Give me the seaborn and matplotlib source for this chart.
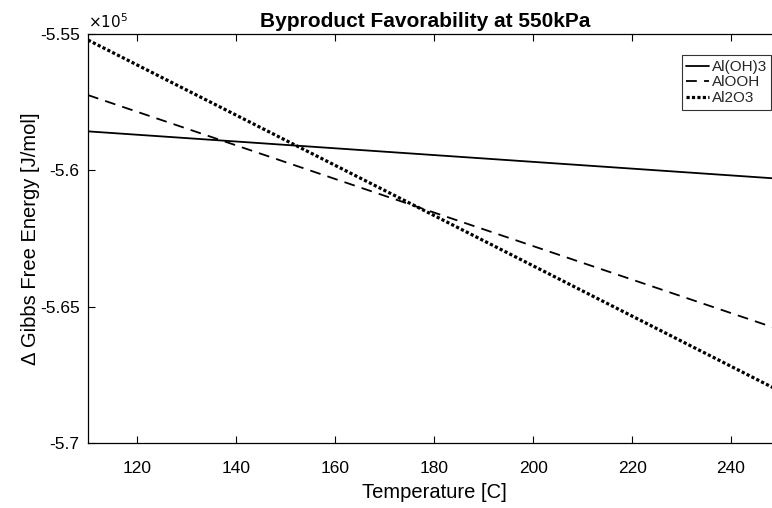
import matplotlib
matplotlib.use("Agg")
import matplotlib.pyplot as plt
from matplotlib.ticker import FuncFormatter
import seaborn as sns
import pandas as pd

temperature = [110, 180, 250]
al_oh3 = [-558570, -559440, -560310]
alooh = [-557240, -561550, -565850]
al2o3 = [-555220, -561660, -568110]
series_names = ["Al(OH)3", "AlOOH", "Al2O3"]
x_ticks = [120, 140, 160, 180, 200, 220, 240]
y_ticks = [-570000, -565000, -560000, -555000]

df = pd.DataFrame({
    "T": temperature * 3,
    "G": al_oh3 + alooh + al2o3,
    "s": [series_names[0]] * 3 + [series_names[1]] * 3 + [series_names[2]] * 3,
})

sns.set_theme(style="white")
plt.rcParams["font.family"] = ["Liberation Sans", "DejaVu Sans"]
plt.rcParams["axes.unicode_minus"] = False

fig = plt.figure(figsize=(7.72, 5.08), dpi=100)
ax = fig.add_axes([0.114, 0.128, 0.897, 0.805])

sns.lineplot(data=df, x="T", y="G", style="s", hue="s",
             palette={n: "black" for n in series_names},
             dashes={series_names[0]: "", series_names[1]: (6, 4), series_names[2]: (1, 0.7)},
             linewidth=1.3, ax=ax, legend=True)
widths = [1.3, 1.3, 2.3]
for line, w in zip(ax.lines[:3], widths):
    line.set_linewidth(w)

ax.set_xlim(110, 250)
ax.set_ylim(-570000, -555000)
ax.set_xticks(x_ticks)
ax.set_yticks(y_ticks)
ax.yaxis.set_major_formatter(FuncFormatter(lambda v, p: "%g" % (v / 1e5)))
ax.text(0.0, 1.008, r"$\times10^5$", transform=ax.transAxes, fontsize=11,
        ha="left", va="bottom", color="black")

ax.tick_params(direction="in", top=True, right=True, length=5, width=0.8,
               labelsize=12.5, colors="black", bottom=True, left=True)
ax.tick_params(axis="x", pad=13)
ax.tick_params(axis="y", pad=6)
for sp in ax.spines.values():
    sp.set_color("black")
    sp.set_linewidth(0.9)

ax.set_xlabel("Temperature [C]", fontsize=14.5, color="black", labelpad=5)
ax.set_ylabel("Δ Gibbs Free Energy [J/mol]", fontsize=14.5, color="black", labelpad=0)
ax.set_title("Byproduct Favorability at 550kPa", fontsize=15, fontweight="bold",
             color="black", pad=5, x=0.487)

leg = ax.legend(loc="upper right", bbox_to_anchor=(0.987, 0.948), fontsize=11,
                frameon=True, fancybox=False, edgecolor="black", handlelength=1.5,
                handletextpad=0.15, borderpad=0.3, labelspacing=0.1, borderaxespad=0)
leg.get_frame().set_linewidth(0.8)
for h, w in zip(leg.get_lines(), widths):
    h.set_color("black")
    h.set_linewidth(w)

fig.savefig("out.png", dpi=100)
